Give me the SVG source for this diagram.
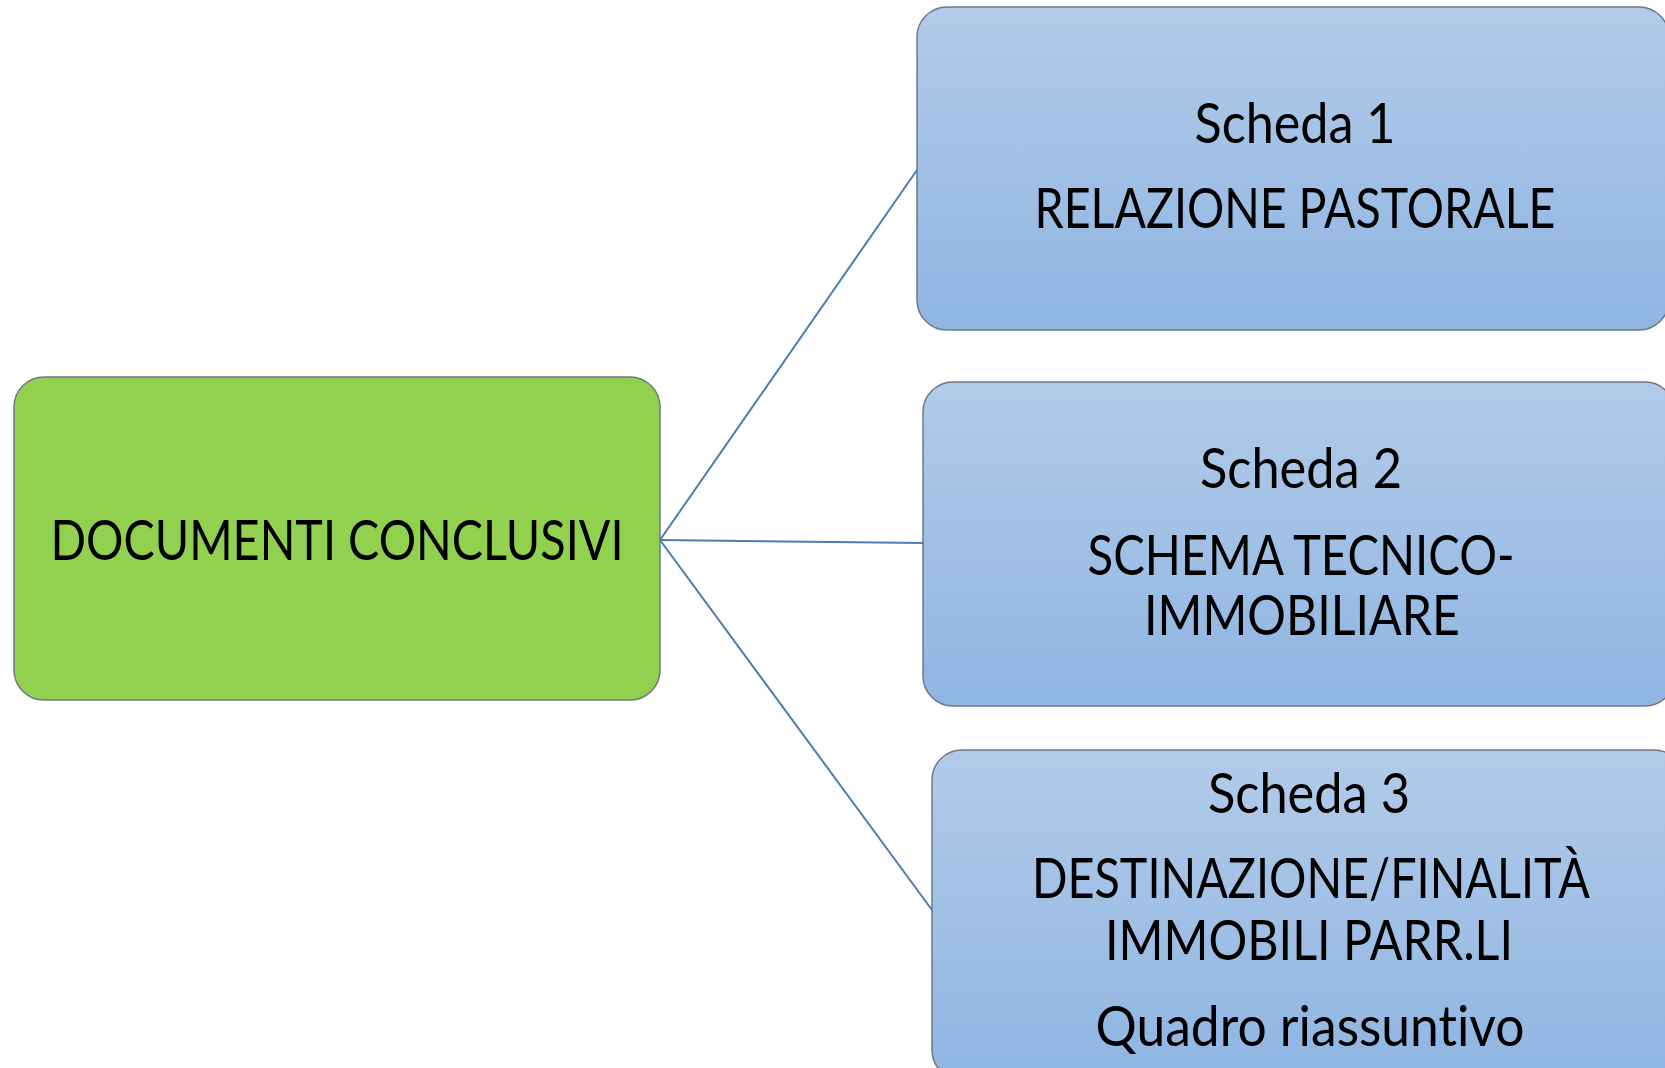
<svg xmlns="http://www.w3.org/2000/svg" width="1665" height="1068" viewBox="0 0 1665 1068">
<style>
.box{stroke:#6d7886;stroke-width:1.5}
.blue{fill:url(#bg)}
.green{fill:#92d050}
.t{font-family:Lato,"Open Sans","Liberation Sans",sans-serif;font-size:56px;fill:#000;text-anchor:middle;font-variant-ligatures:none;font-feature-settings:"liga" 0,"clig" 0}
.c{stroke:#4a7db4;stroke-width:2;fill:none}
</style>
<defs>
<linearGradient id="bg" x1="0" y1="0" x2="0" y2="1">
<stop offset="0" stop-color="#b2cbe9"/>
<stop offset="1" stop-color="#8fb5e2"/>
</linearGradient>
</defs>
<rect width="1665" height="1068" fill="#fff"/>
<g id="connectors">
<line class="c" x1="660" y1="540" x2="917" y2="170"/>
<line class="c" x1="660" y1="540" x2="923" y2="543"/>
<line class="c" x1="660" y1="540" x2="932" y2="910"/>
</g>
<g id="node-documenti">
<rect class="box green" x="14" y="377" width="646" height="323" rx="30"/>
<text class="t" x="337" y="560" textLength="573" lengthAdjust="spacingAndGlyphs">DOCUMENTI CONCLUSIVI</text>
</g>
<g id="node-scheda1">
<rect class="box blue" x="917" y="7" width="752" height="323" rx="30"/>
<text class="t" x="1295" y="143" textLength="201" lengthAdjust="spacingAndGlyphs">Scheda 1</text>
<text class="t" x="1295" y="228" textLength="521" lengthAdjust="spacingAndGlyphs">RELAZIONE PASTORALE</text>
</g>
<g id="node-scheda2">
<rect class="box blue" x="923" y="382" width="752" height="324" rx="30"/>
<text class="t" x="1301" y="488" textLength="202" lengthAdjust="spacingAndGlyphs">Scheda 2</text>
<text class="t" x="1301" y="575" textLength="427" lengthAdjust="spacingAndGlyphs">SCHEMA TECNICO-</text>
<text class="t" x="1302" y="635" textLength="316" lengthAdjust="spacingAndGlyphs">IMMOBILIARE</text>
</g>
<g id="node-scheda3">
<rect class="box blue" x="932" y="750" width="752" height="330" rx="30"/>
<text class="t" x="1309" y="813" textLength="202" lengthAdjust="spacingAndGlyphs">Scheda 3</text>
<text class="t" x="1311" y="898" textLength="558" lengthAdjust="spacingAndGlyphs">DESTINAZIONE/FINALITÀ</text>
<text class="t" x="1309" y="960" textLength="408" lengthAdjust="spacingAndGlyphs">IMMOBILI PARR.LI</text>
<text class="t" x="1310" y="1046" textLength="429" lengthAdjust="spacingAndGlyphs">Quadro riassuntivo</text>
</g>
</svg>
